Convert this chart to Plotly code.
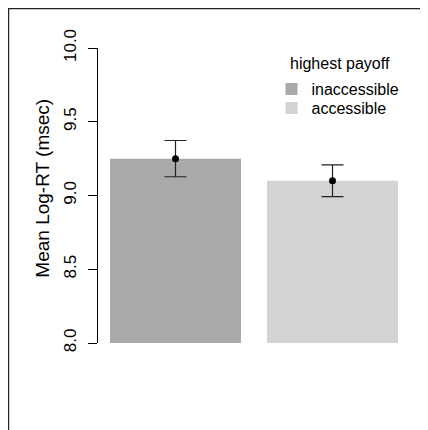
import plotly.graph_objects as go

# Data
groups = ["inaccessible", "accessible"]
means = [9.25, 9.10]
errors = [0.123, 0.107]
bar_colors = ["#A9A9A9", "#D3D3D3"]
tick_vals = [8.0, 8.5, 9.0, 9.5, 10.0]
tick_text = ["8.0", "8.5", "9.0", "9.5", "10.0"]
y_title = "Mean Log-RT (msec)"
legend_title = "highest payoff"

# The page adds an 8px body margin, so the figure is sized to end at the window edge
W, H = 420, 422
L, R, T, B = 90, 18, 40, 87.3
pw = W - L - R
ph = H - T - B

xpos = [0, 1]
legend_names = ["legend", "legend2"]

fig = go.Figure()
for i, g in enumerate(groups):
    fig.add_trace(go.Bar(
        x=[xpos[i]], y=[means[i] - 8.0], base=8.0, name=g,
        marker=dict(color=bar_colors[i], line=dict(width=0)),
        width=0.834, legend=legend_names[i],
    ))

fig.add_trace(go.Scatter(
    x=xpos, y=means, mode="markers", showlegend=False,
    marker=dict(color="black", size=7),
    error_y=dict(type="data", array=errors, visible=True,
                 color="#222222", thickness=1.2, width=11),
))

def px_x(px):
    return (px - L) / pw

def px_y(py):
    return (H - B - py) / ph

# Frame lines (left and top)
fig.add_shape(type="line", xref="paper", yref="paper",
              x0=px_x(0.6), x1=px_x(0.6), y0=px_y(0), y1=px_y(H + 5),
              line=dict(color="#222222", width=1.2))
fig.add_shape(type="line", xref="paper", yref="paper",
              x0=px_x(0), x1=px_x(W + 5), y0=px_y(0.6), y1=px_y(0.6),
              line=dict(color="#222222", width=1.2))

fig.add_annotation(text=y_title, xref="paper", yref="paper",
                   x=px_x(35), y=px_y(179.5), textangle=-90,
                   showarrow=False, xanchor="center", yanchor="middle",
                   font=dict(size=19, color="black"))
fig.add_annotation(text=legend_title, xref="paper", yref="paper",
                   x=px_x(280), y=px_y(55), showarrow=False,
                   xanchor="left", yanchor="middle",
                   font=dict(size=16, color="black"))

leg_common = dict(xanchor="left", yanchor="top", font=dict(size=16),
                  bgcolor="rgba(0,0,0,0)", itemclick=False)

fig.update_layout(
    width=W, height=H,
    margin=dict(l=L, r=R, t=T, b=B, pad=0),
    paper_bgcolor="white", plot_bgcolor="white",
    barmode="overlay",
    font=dict(family="Liberation Sans, Arial, sans-serif", color="black"),
    showlegend=True,
    legend=dict(x=px_x(263.5), y=px_y(64), **leg_common),
    legend2=dict(x=px_x(263.5), y=px_y(83), **leg_common),
    xaxis=dict(range=[-0.4936, 1.4936], showticklabels=False, showgrid=False,
               zeroline=False, showline=False, ticks=""),
    yaxis=dict(range=[8, 10], tickvals=tick_vals, ticktext=tick_text,
               tickangle=-90, ticks="outside", ticklen=9, tickcolor="black",
               ticklabelstandoff=5,
               showline=True, linecolor="black", linewidth=1,
               showgrid=False, zeroline=False,
               tickfont=dict(size=17, color="black")),
)

fig.write_html("out.html", config={"displayModeBar": False})
